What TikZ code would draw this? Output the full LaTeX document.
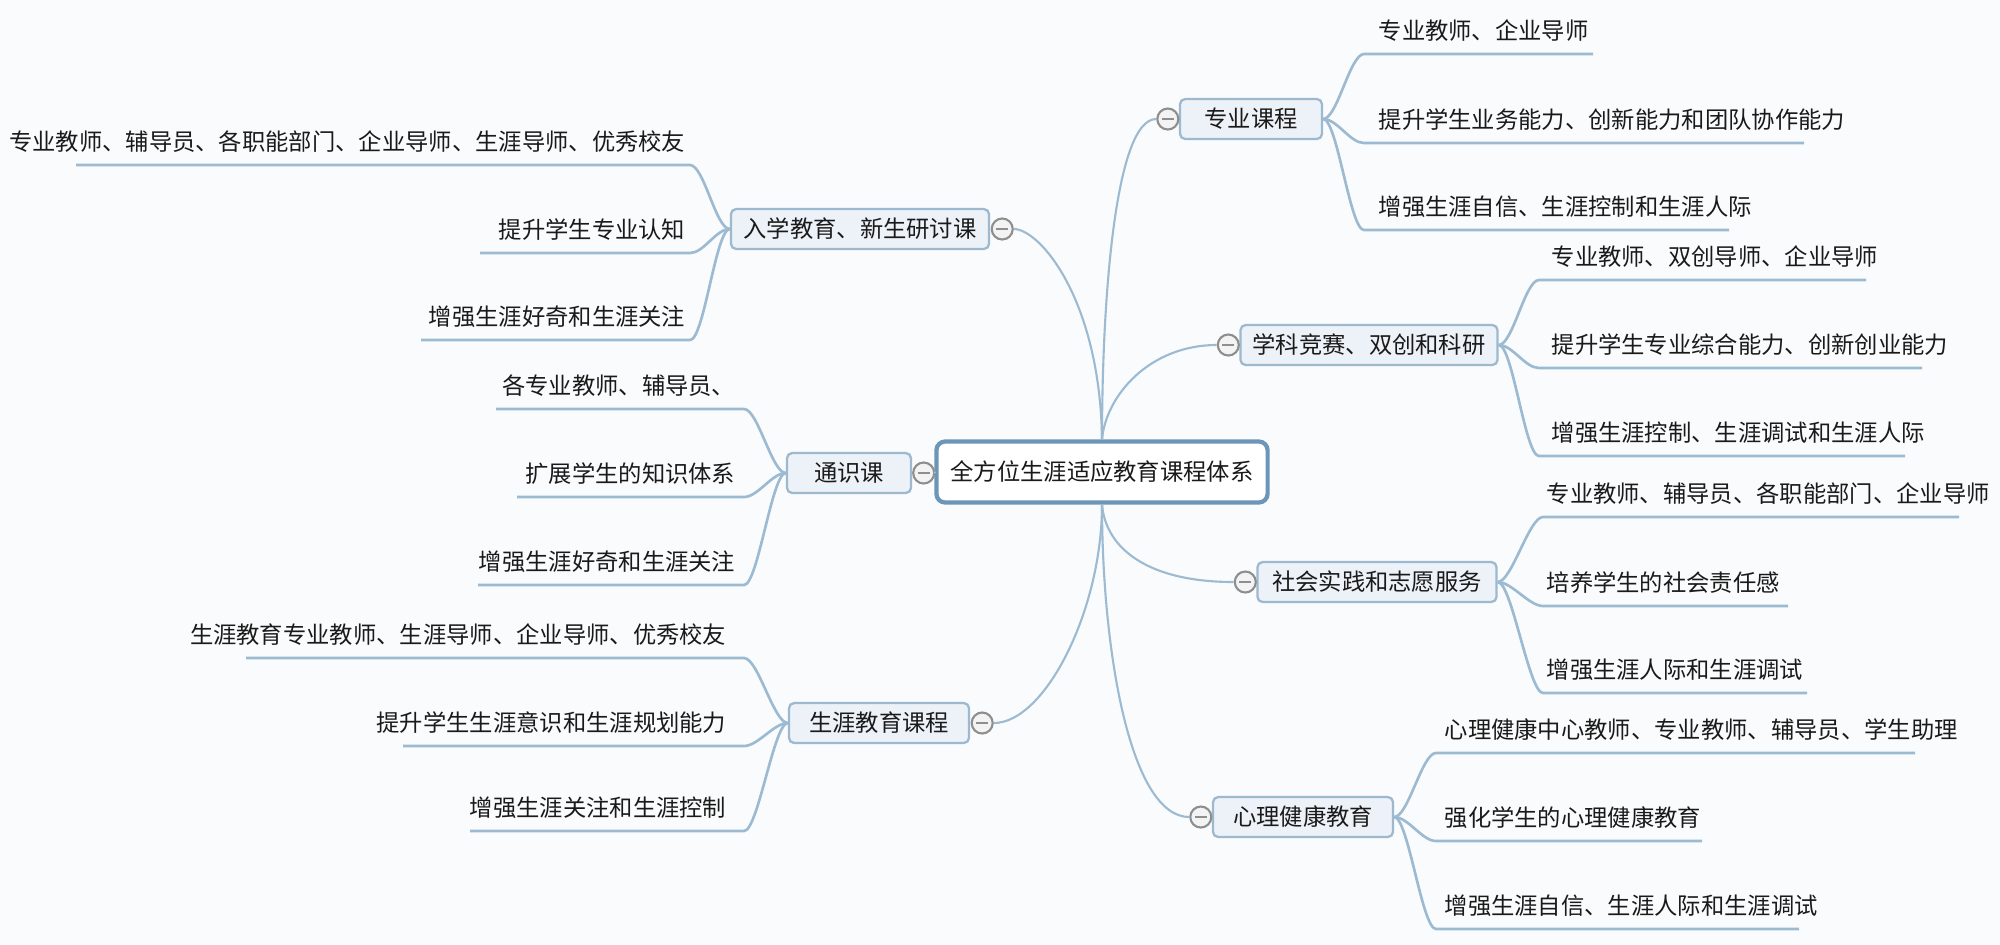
\documentclass[tikz,border=0pt]{standalone}
\usepackage{fontspec}
\newfontfamily\cjk{Noto Sans CJK SC}
\definecolor{bgc}{HTML}{FAFBFC}
\definecolor{linkc}{HTML}{9CBAD1}
\definecolor{boxf}{HTML}{EDF2F8}
\definecolor{boxb}{HTML}{9DB9D0}
\definecolor{rootb}{HTML}{6C96B8}
\definecolor{knobc}{HTML}{8E8E8E}
\definecolor{knobf}{HTML}{F3F3F3}
\definecolor{textc}{HTML}{1A1A1A}
\begin{document}
\begin{tikzpicture}[x=0.01cm,y=-0.01cm,
  link/.style={draw=linkc, line width=0.6pt},
  uline/.style={draw=linkc, line width=0.75pt},
  txt/.style={font=\cjk\fontsize{6.63pt}{8pt}\selectfont, text=textc, inner sep=0pt},
  lr/.style={txt, anchor=west},
  ll/.style={txt, anchor=east},
  branch/.style={txt, draw=boxb, fill=boxf, line width=0.65pt, rounded corners=1.5pt, minimum height=0.40cm},
  root/.style={txt, draw=rootb, fill=white, line width=1.2pt, rounded corners=2.5pt, minimum height=0.61cm, minimum width=3.31cm},
  knob/.style={circle, draw=knobc, fill=knobf, line width=0.6pt, minimum size=0.21cm, inner sep=0pt,
    path picture={\draw[knobc,line width=0.55pt] ([xshift=-0.06cm]path picture bounding box.center) -- ([xshift=0.06cm]path picture bounding box.center);}}
]
\useasboundingbox (0,0) rectangle (2000,944);
\fill[bgc] (0,0) rectangle (2000,944);

% root
\node[root] (root) at (1102,472) {全方位生涯适应教育课程体系};

% branches
\node[branch, minimum width=1.42cm] (b1) at (1251,119) {专业课程};
\node[branch, minimum width=2.57cm] (b2) at (1369,345) {学科竞赛、双创和科研};
\node[branch, minimum width=2.39cm] (b3) at (1377,582) {社会实践和志愿服务};
\node[branch, minimum width=1.80cm] (b4) at (1303,817) {心理健康教育};
\node[branch, minimum width=2.58cm] (b5) at (860,229) {入学教育、新生研讨课};
\node[branch, minimum width=1.24cm] (b6) at (849,473) {通识课};
\node[branch, minimum width=1.80cm] (b7) at (879,723) {生涯教育课程};

% knobs
\node[knob] (k1) at ([xshift=-0.11cm]b1.west) {};
\node[knob] (k2) at ([xshift=-0.11cm]b2.west) {};
\node[knob] (k3) at ([xshift=-0.11cm]b3.west) {};
\node[knob] (k4) at ([xshift=-0.11cm]b4.west) {};
\node[knob] (k5) at ([xshift=0.12cm]b5.east) {};
\node[knob] (k6) at ([xshift=0.115cm]b6.east) {};
\node[knob] (k7) at ([xshift=0.12cm]b7.east) {};

% hub connectors
\draw[link] (root.north) .. controls (1102,300) and (1115,119) .. (k1.west);
\draw[link] (root.north) .. controls (1106,395) and (1150,345) .. (k2.west);
\draw[link] (root.south) .. controls (1106,550) and (1150,582) .. (k3.west);
\draw[link] (root.south) .. controls (1102,650) and (1130,817) .. (k4.west);
\draw[link] (k5.east) .. controls (1040,229) and (1100,300) .. (root.north);
\draw[link] (k6.east) -- (root.west);
\draw[link] (k7.east) .. controls (1045,723) and (1102,610) .. (root.south);

% ---------- right leaves ----------
% B1
\coordinate (a1s) at (1364,54);  \coordinate (a1e) at (1593,54);
\coordinate (a2s) at (1364,143); \coordinate (a2e) at (1804,143);
\coordinate (a3s) at (1364,230); \coordinate (a3e) at (1729,230);
\node[lr] (a1) at (1378,31)  {专业教师、企业导师};
\node[lr] (a2) at (1378,120) {提升学生业务能力、创新能力和团队协作能力};
\node[lr] (a3) at (1378,207) {增强生涯自信、生涯控制和生涯人际};
\foreach \n in {a1,a2,a3}
  \draw[uline] (b1.east) .. controls +(14,0) and +(-14,0) .. (\n s) -- (\n e);

% B2
\coordinate (c1s) at (1539,280); \coordinate (c1e) at (1866,280);
\coordinate (c2s) at (1539,368); \coordinate (c2e) at (1922,368);
\coordinate (c3s) at (1539,456); \coordinate (c3e) at (1905,456);
\node[lr] (c1) at (1551,257) {专业教师、双创导师、企业导师};
\node[lr] (c2) at (1551,345) {提升学生专业综合能力、创新创业能力};
\node[lr] (c3) at (1551,433) {增强生涯控制、生涯调试和生涯人际};
\foreach \n in {c1,c2,c3}
  \draw[uline] (b2.east) .. controls +(14,0) and +(-14,0) .. (\n s) -- (\n e);

% B3
\coordinate (d1s) at (1543,517); \coordinate (d1e) at (1959,517);
\coordinate (d2s) at (1543,606); \coordinate (d2e) at (1788,606);
\coordinate (d3s) at (1543,693); \coordinate (d3e) at (1807,693);
\node[lr] (d1) at (1546,494) {专业教师、辅导员、各职能部门、企业导师};
\node[lr] (d2) at (1546,583) {培养学生的社会责任感};
\node[lr] (d3) at (1546,670) {增强生涯人际和生涯调试};
\foreach \n in {d1,d2,d3}
  \draw[uline] (b3.east) .. controls +(14,0) and +(-14,0) .. (\n s) -- (\n e);

% B4
\coordinate (f1s) at (1436,753); \coordinate (f1e) at (1915,753);
\coordinate (f2s) at (1436,841); \coordinate (f2e) at (1702,841);
\coordinate (f3s) at (1436,929); \coordinate (f3e) at (1799,929);
\node[lr] (f1) at (1444,730) {心理健康中心教师、专业教师、辅导员、学生助理};
\node[lr] (f2) at (1444,818) {强化学生的心理健康教育};
\node[lr] (f3) at (1444,906) {增强生涯自信、生涯人际和生涯调试};
\foreach \n in {f1,f2,f3}
  \draw[uline] (b4.east) .. controls +(14,0) and +(-14,0) .. (\n s) -- (\n e);

% ---------- left leaves ----------
% B5
\coordinate (g1s) at (690,165); \coordinate (g1e) at (76,165);
\coordinate (g2s) at (690,253); \coordinate (g2e) at (480,253);
\coordinate (g3s) at (690,340); \coordinate (g3e) at (421,340);
\node[ll] (g1) at (686,142) {专业教师、辅导员、各职能部门、企业导师、生涯导师、优秀校友};
\node[ll] (g2) at (686,230) {提升学生专业认知};
\node[ll] (g3) at (686,317) {增强生涯好奇和生涯关注};
\foreach \n in {g1,g2,g3}
  \draw[uline] (b5.west) .. controls +(-14,0) and +(14,0) .. (\n s) -- (\n e);

% B6
\coordinate (h1s) at (744,409); \coordinate (h1e) at (496,409);
\coordinate (h2s) at (744,497); \coordinate (h2e) at (517,497);
\coordinate (h3s) at (744,585); \coordinate (h3e) at (478,585);
\node[ll] (h1) at (736,386) {各专业教师、辅导员、};
\node[ll] (h2) at (736,474) {扩展学生的知识体系};
\node[ll] (h3) at (736,562) {增强生涯好奇和生涯关注};
\foreach \n in {h1,h2,h3}
  \draw[uline] (b6.west) .. controls +(-14,0) and +(14,0) .. (\n s) -- (\n e);

% B7
\coordinate (m1s) at (744,658); \coordinate (m1e) at (246,658);
\coordinate (m2s) at (744,746); \coordinate (m2e) at (403,746);
\coordinate (m3s) at (744,831); \coordinate (m3e) at (470,831);
\node[ll] (m1) at (727,635) {生涯教育专业教师、生涯导师、企业导师、优秀校友};
\node[ll] (m2) at (727,723) {提升学生生涯意识和生涯规划能力};
\node[ll] (m3) at (727,808) {增强生涯关注和生涯控制};
\foreach \n in {m1,m2,m3}
  \draw[uline] (b7.west) .. controls +(-14,0) and +(14,0) .. (\n s) -- (\n e);
\end{tikzpicture}
\end{document}
